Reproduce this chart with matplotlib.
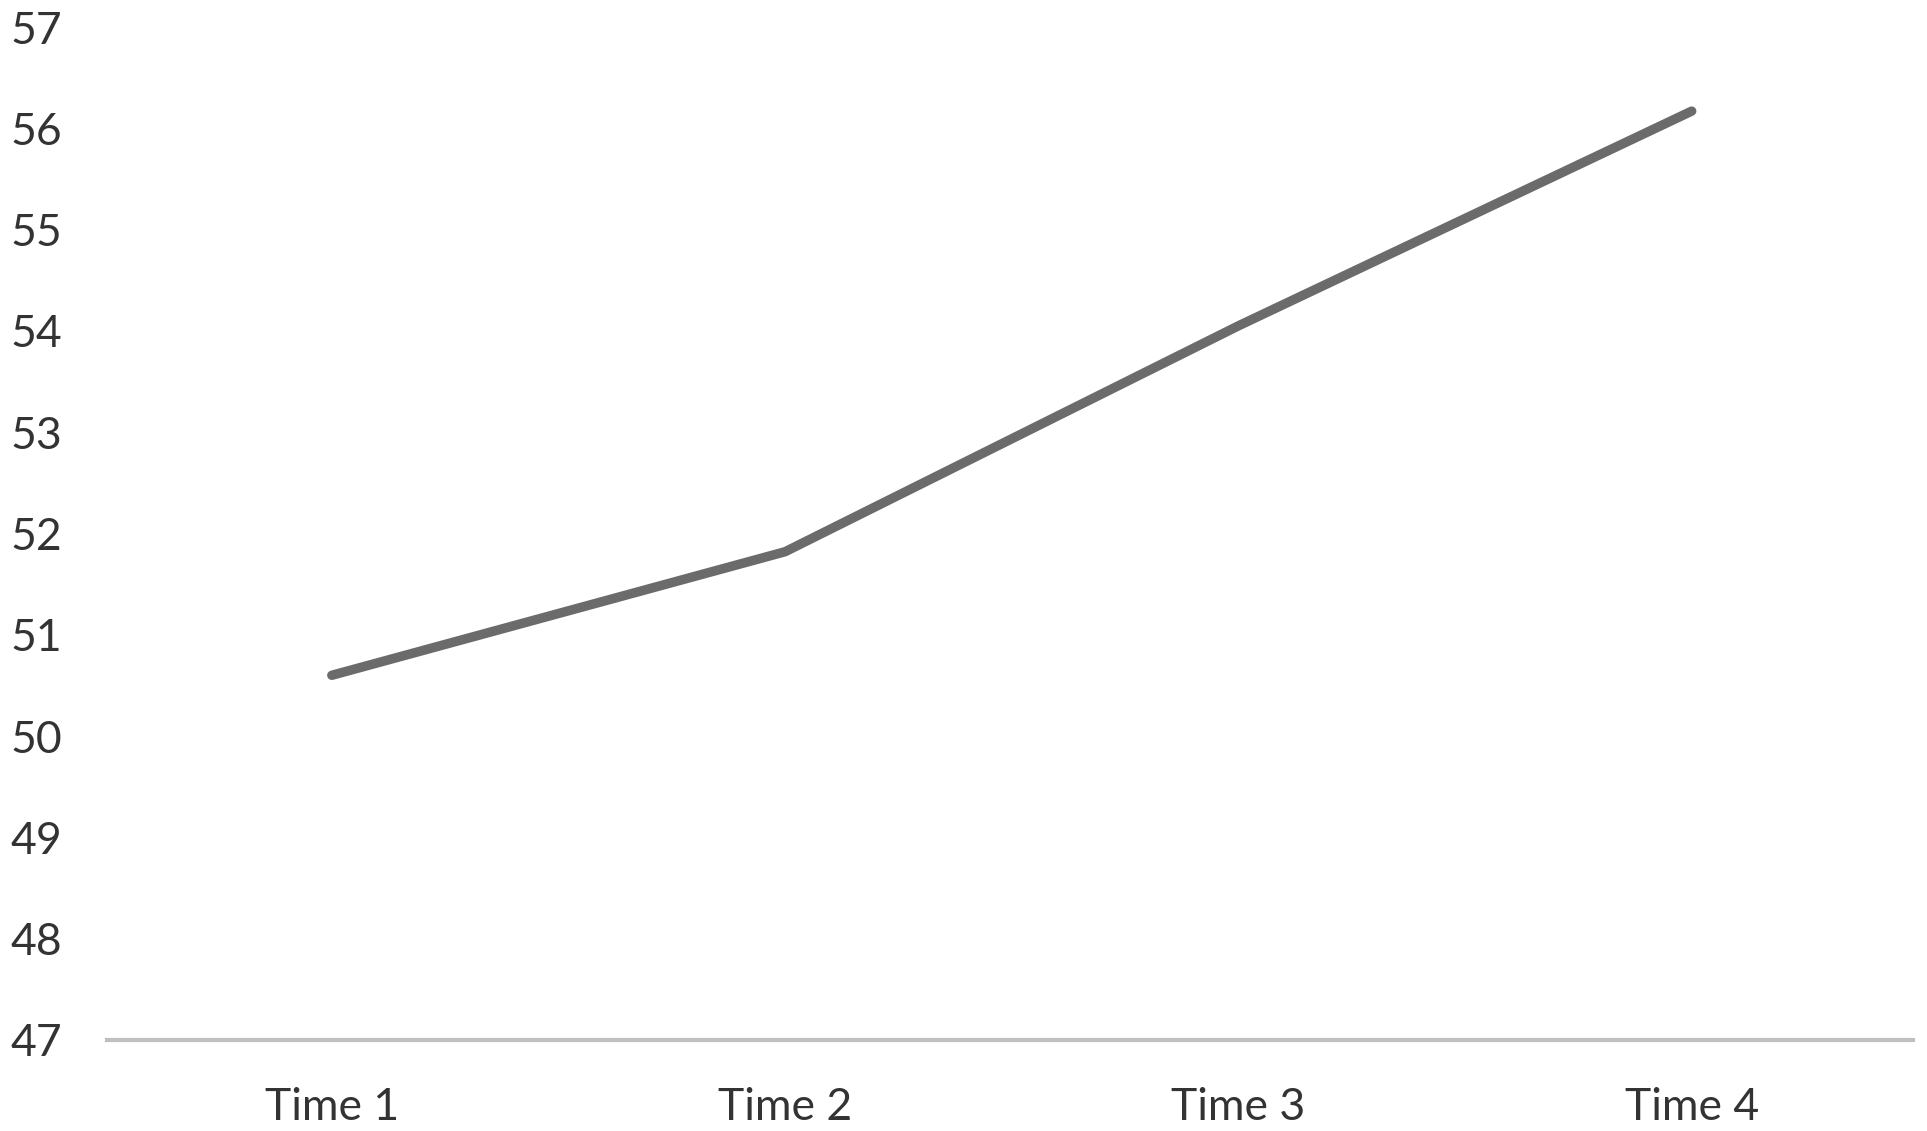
import matplotlib
matplotlib.use("Agg")
import matplotlib.pyplot as plt

# values
categories = ["Time 1", "Time 2", "Time 3", "Time 4"]
values = [50.6, 51.82, 54.05, 56.17]
y_ticks = list(range(47, 58))

plt.rcParams["font.family"] = ["Lato", "DejaVu Sans"]

fig = plt.figure(figsize=(19.27, 11.31), dpi=100)
ax = fig.add_axes([0.0555, 0.0805, 0.9372, 0.8956])

x = list(range(len(categories)))
ax.plot(x, values, color="#6b6b6b", linewidth=6.8, solid_capstyle="round", clip_on=False)

ax.set_xlim(-0.496, 3.488)
ax.set_ylim(47, 57)
ax.set_xticks(x)
ax.set_xticklabels(categories)
ax.set_yticks(y_ticks)

for side in ["top", "right", "left"]:
    ax.spines[side].set_visible(False)
ax.spines["bottom"].set_color("#bfbfbf")
ax.spines["bottom"].set_linewidth(3)

ax.tick_params(axis="both", length=0, labelsize=32, colors="#333333")
ax.tick_params(axis="y", pad=32)
ax.tick_params(axis="x", pad=34)

fig.savefig("out.png", dpi=100, facecolor="white")
